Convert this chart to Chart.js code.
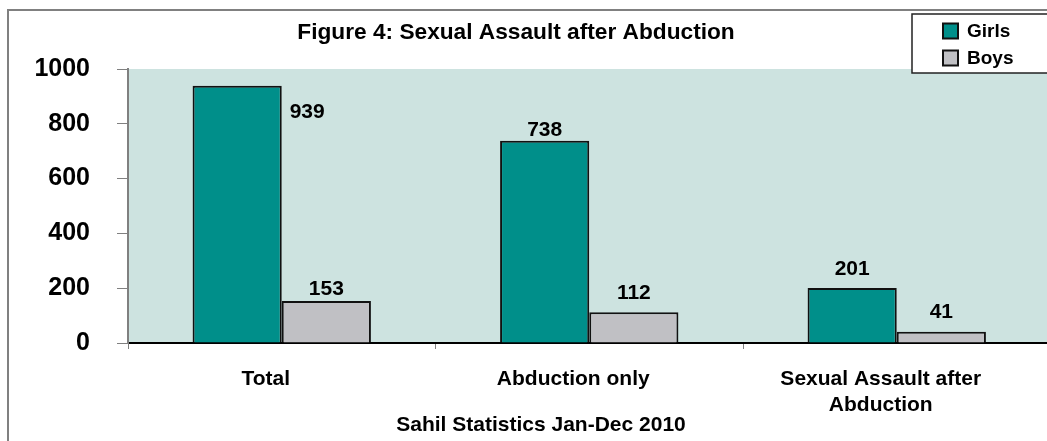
<!DOCTYPE html>
<html>
<head>
<meta charset="utf-8">
<script src="https://cdn.jsdelivr.net/npm/chart.js@4/dist/chart.umd.min.js"></script>
<style>
  html, body { margin: 0; padding: 0; background: #fff; overflow: hidden; }
  #wrap { width: 1047px; height: 441px; overflow: hidden; }
</style>
</head>
<body>
<div id="wrap"><canvas id="chart" width="1060" height="441"></canvas></div>
<script>
const categories = ['Total', 'Abduction only', ['Sexual Assault after', 'Abduction']]
const girls = [939, 738, 201]
const boys = [153, 112, 41]
const yTicks = [0, 200, 400, 600, 800, 1000]

const chartTitle = 'Figure 4: Sexual Assault after Abduction'
const xTitle = 'Sahil Statistics Jan-Dec 2010'

const FONT = '"Liberation Sans", Arial, sans-serif'

// frame, plot background, titles
const decor = {
  id: 'decor',
  beforeDraw(chart) {
    const ctx = chart.ctx
    const a = chart.chartArea
    ctx.save()
    ctx.fillStyle = '#fff'
    ctx.fillRect(0, 0, chart.width, chart.height)
    ctx.strokeStyle = '#808080'
    ctx.lineWidth = 2
    ctx.beginPath()
    ctx.moveTo(8, chart.height)
    ctx.lineTo(8, 10)
    ctx.lineTo(chart.width, 10)
    ctx.stroke()
    ctx.fillStyle = '#cde3e0'
    ctx.fillRect(a.left, a.top, a.right - a.left, a.bottom - a.top)
    ctx.restore()
  },
  afterDraw(chart) {
    const ctx = chart.ctx
    ctx.save()
    ctx.fillStyle = '#000'
    ctx.textAlign = 'center'
    ctx.textBaseline = 'middle'
    ctx.font = 'bold 22.7px ' + FONT
    ctx.fillText(chartTitle, 516, 33)
    ctx.font = 'bold 21px ' + FONT
    ctx.fillText(xTitle, 541, 425)
    ctx.restore()
  }
}

// value labels next to the bars
const valueLabels = {
  id: 'valueLabels',
  afterDatasetsDraw(chart, args, opts) {
    const ctx = chart.ctx
    ctx.save()
    ctx.fillStyle = '#000'
    ctx.font = 'bold 21px ' + FONT
    ctx.textAlign = 'center'
    ctx.textBaseline = 'middle'
    chart.data.datasets.forEach((ds, di) => {
      chart.getDatasetMeta(di).data.forEach((bar, i) => {
        const off = opts.offsets[di][i]
        ctx.fillText(ds.data[i], bar.x + off[0], bar.y + off[1])
      })
    })
    ctx.restore()
  }
}

// boxed legend in the top right corner
const boxLegend = {
  id: 'boxLegend',
  afterDraw(chart) {
    const ctx = chart.ctx
    ctx.save()
    ctx.fillStyle = '#fff'
    ctx.fillRect(912, 14, 160, 59)
    ctx.strokeStyle = '#222'
    ctx.lineWidth = 1.5
    ctx.strokeRect(912, 14, 160, 59)
    ctx.font = 'bold 19px ' + FONT
    ctx.textBaseline = 'middle'
    chart.data.datasets.forEach((ds, i) => {
      const y = 31 + i * 27
      ctx.fillStyle = ds.backgroundColor
      ctx.fillRect(943, y - 7.5, 15, 15)
      ctx.strokeStyle = '#111'
      ctx.lineWidth = 2
      ctx.strokeRect(943, y - 7.5, 15, 15)
      ctx.fillStyle = '#000'
      ctx.fillText(ds.label, 967, y + 1)
    })
    ctx.restore()
  }
}

new Chart(document.getElementById('chart'), {
  type: 'bar',
  data: {
    labels: categories,
    datasets: [
      { label: 'Girls', data: girls, backgroundColor: '#008f8a', borderColor: '#111', borderWidth: 2 },
      { label: 'Boys', data: boys, backgroundColor: '#c0c0c4', borderColor: '#111', borderWidth: 2 }
    ]
  },
  options: {
    responsive: false,
    animation: false,
    categoryPercentage: 0.58,
    barPercentage: 1,
    layout: { padding: { top: 69, right: 9.5, bottom: 0, left: 0 } },
    plugins: {
      legend: { display: false },
      title: { display: false },
      tooltip: { enabled: false },
      valueLabels: {
        offsets: [
          [[70, 26], [0, -11], [0, -19]],
          [[0, -12], [0, -19], [0, -20]]
        ]
      }
    },
    scales: {
      x: {
        offset: true,
        grid: { offset: true, drawOnChartArea: false, drawTicks: true, tickLength: 6, color: '#808080' },
        border: { display: true, color: '#000', width: 2 },
        ticks: {
          color: '#000', padding: 18, maxRotation: 0, labelOffset: -16,
          font: { family: FONT, size: 21, weight: 'bold' }
        },
        afterFit(scale) { scale.height = 98 }
      },
      y: {
        min: 0,
        max: 1000,
        afterBuildTicks(scale) { scale.ticks = yTicks.map(v => ({ value: v })) },
        grid: { drawOnChartArea: false, drawTicks: true, tickLength: 11, color: '#808080' },
        border: { display: true, color: '#808080', width: 2 },
        ticks: {
          color: '#000', padding: 27, callback: v => String(v),
          font: { family: FONT, size: 25, weight: 'bold' }
        },
        afterFit(scale) { scale.width = 128 }
      }
    }
  },
  plugins: [decor, valueLabels, boxLegend]
})
</script>
</body>
</html>
